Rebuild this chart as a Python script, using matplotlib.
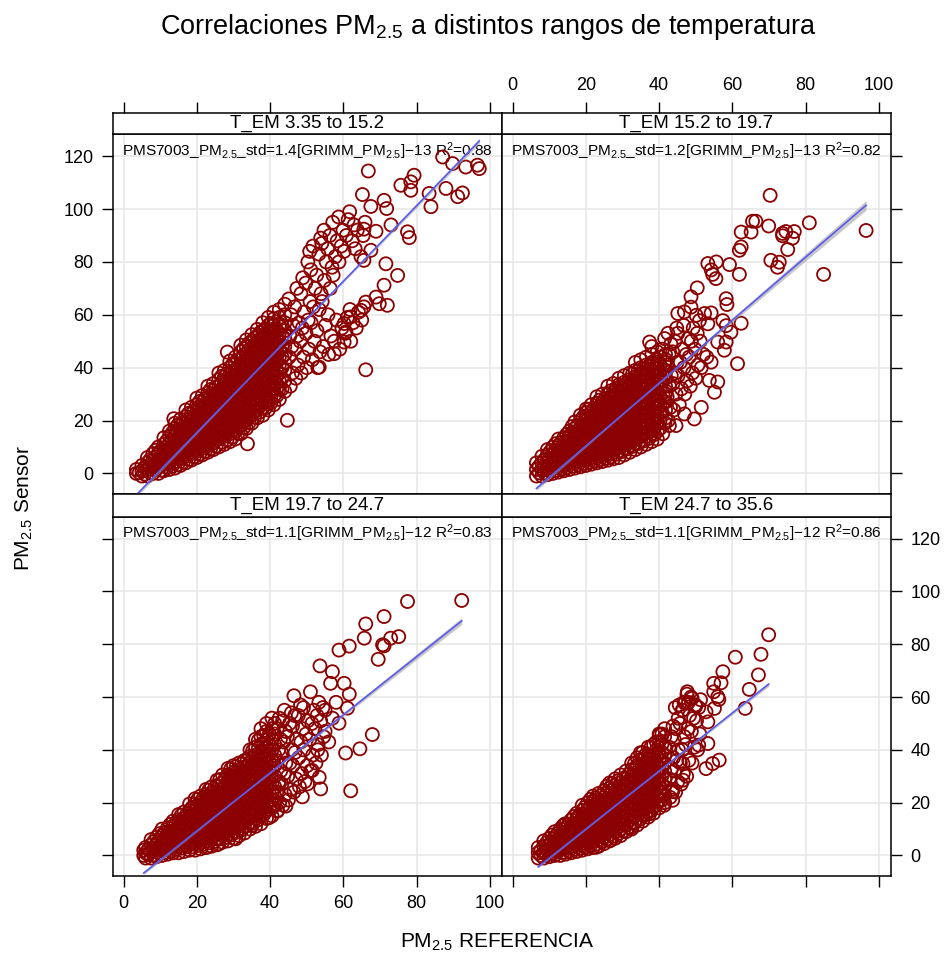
import numpy as np
import matplotlib
matplotlib.use("Agg")
import matplotlib.pyplot as plt

plt.rcParams["font.family"] = ["Liberation Sans", "DejaVu Sans"]
plt.rcParams["mathtext.fontset"] = "custom"
plt.rcParams["mathtext.rm"] = "Liberation Sans"
plt.rcParams["mathtext.it"] = "Liberation Sans:italic"
plt.rcParams["mathtext.bf"] = "Liberation Sans:bold"

# ---- data: (x, [y values]) columns of the dense cloud,
#      extra columns inside the solid core, and single points where it thins out ----
tl_cols = [
    (3.5, [0, 1.5]),
    (5, [-1, 1, 3]),
    (6.5, [-1, 1.5, 4, 6]),
    (8, [0, 2.5, 5, 7.5]),
    (9.5, [0, 2.5, 5, 7.5, 10]),
    (11, [1, 3.5, 6, 8.5, 11, 13.5]),
    (12.5, [1.5, 4, 6.5, 9, 11.5, 14, 16]),
    (14, [2, 4.5, 7, 9.5, 12, 14.5, 17, 19]),
    (15.5, [3, 5.5, 8, 10.5, 13, 15.5, 18, 20.5]),
    (17, [4, 6.5, 9, 11.5, 14, 16.5, 19, 21.5, 24]),
    (18.5, [5, 7.5, 10, 12.5, 15, 17.5, 20, 22.5, 25]),
    (20, [6, 8.5, 11, 13.5, 16, 18.5, 21, 23.5, 26, 28.5]),
    (21.5, [7, 9.5, 12, 14.5, 17, 19.5, 22, 24.5, 27, 29.5]),
    (23, [8, 10.5, 13, 15.5, 18, 20.5, 23, 25.5, 28, 30.5, 33]),
    (24.5, [9, 11.5, 14, 16.5, 19, 21.5, 24, 26.5, 29, 31.5, 34]),
    (26, [10, 13, 15.5, 18, 20.5, 23, 25.5, 28, 30.5, 33, 35.5, 38]),
    (27.5, [11, 14, 16.5, 19, 21.5, 24, 26.5, 29, 31.5, 34, 36.5, 39]),
    (29, [12, 15, 17.5, 20, 22.5, 25, 27.5, 30, 32.5, 35, 37.5, 40, 42.5]),
    (30.5, [13, 16, 19, 21.5, 24, 26.5, 29, 31.5, 34, 36.5, 39, 41.5, 44]),
    (32, [15, 18, 21, 23.5, 26, 28.5, 31, 33.5, 36, 38.5, 41, 43.5, 46, 48.5]),
    (33.5, [17, 20, 23, 25.5, 28, 30.5, 33, 35.5, 38, 40.5, 43, 45.5, 48, 50.5]),
    (35, [19, 22, 25, 27.5, 30, 32.5, 35, 37.5, 40, 42.5, 45, 47.5, 50, 52.5]),
    (36.5, [21, 24, 27, 29.5, 32, 34.5, 37, 39.5, 42, 44.5, 47, 49.5, 52, 54.5]),
    (38, [22, 25, 28, 31, 34, 36.5, 39, 41.5, 44, 46.5, 49, 51.5, 54, 57]),
    (39.5, [24, 27, 30, 33, 36, 38.5, 41, 43.5, 46, 48.5, 51, 53.5, 56, 59]),
    (41, [26, 29, 32, 35, 38, 41, 43.5, 46, 48.5, 51, 53.5, 56, 58.5, 61]),
    (42.5, [28, 32, 35, 38, 41, 44, 47, 50, 53, 56, 59, 62]),
    (44, [31, 35, 39, 42, 45, 48, 51, 54, 57, 60, 64]),
]
tl_core = [
    (4.25, [0.25]),
    (5.75, [-0.25, 2.25]),
    (7.25, [0.25, 2.75, 5.25]),
    (8.75, [1.25, 3.75, 6.25, 8.75]),
    (10.25, [1.25, 3.75, 6.25, 8.75]),
    (11.75, [2.25, 4.75, 7.25, 9.75, 12.25]),
    (13.25, [2.75, 5.25, 7.75, 10.25, 12.75, 15.25]),
    (14.75, [3.25, 5.75, 8.25, 10.75, 13.25, 15.75, 18.25]),
    (16.25, [4.25, 6.75, 9.25, 11.75, 14.25, 16.75, 19.25]),
    (17.75, [5.25, 7.75, 10.25, 12.75, 15.25, 17.75, 20.25, 22.75]),
    (19.25, [6.25, 8.75, 11.25, 13.75, 16.25, 18.75, 21.25, 23.75]),
    (20.75, [7.25, 9.75, 12.25, 14.75, 17.25, 19.75, 22.25, 24.75, 27.25]),
    (22.25, [8.25, 10.75, 13.25, 15.75, 18.25, 20.75, 23.25, 25.75, 28.25]),
    (23.75, [9.25, 11.75, 14.25, 16.75, 19.25, 21.75, 24.25, 26.75, 29.25, 31.75]),
    (25.25, [10.25, 12.75, 15.25, 17.75, 20.25, 22.75, 25.25, 27.75, 30.25, 32.75]),
    (26.75, [11.75, 14.25, 16.75, 19.25, 21.75, 24.25, 26.75, 29.25, 31.75, 34.25, 36.75]),
    (28.25, [12.75, 15.25, 17.75, 20.25, 22.75, 25.25, 27.75, 30.25, 32.75, 35.25, 37.75]),
    (29.75, [13.75, 16.25, 18.75, 21.25, 23.75, 26.25, 28.75, 31.25, 33.75, 36.25, 38.75, 41.25]),
    (31.25, [15.25, 17.75, 20.25, 22.75, 25.25, 27.75, 30.25, 32.75, 35.25, 37.75, 40.25, 42.75]),
    (32.75, [17.25, 19.75, 22.25, 24.75, 27.25, 29.75, 32.25, 34.75, 37.25, 39.75, 42.25, 44.75, 47.25]),
    (34.25, [19.25, 21.75, 24.25, 26.75, 29.25, 31.75, 34.25, 36.75, 39.25, 41.75, 44.25, 46.75, 49.25]),
    (35.75, [21.25, 23.75, 26.25, 28.75, 31.25, 33.75, 36.25, 38.75, 41.25, 43.75, 46.25, 48.75, 51.25]),
    (37.25, [23.25, 25.75, 28.25, 30.75, 33.25, 35.75, 38.25, 40.75, 43.25, 45.75, 48.25, 50.75, 53.25]),
    (38.75, [24.75, 27.25, 29.75, 32.25, 34.75, 37.25, 39.75, 42.25, 44.75, 47.25, 49.75, 52.25, 54.75]),
    (40.25, [26.75, 29.25, 31.75, 34.25, 36.75, 39.25, 41.75, 44.25, 46.75, 49.25, 51.75, 54.25, 56.75]),
    (41.75, [29.25, 31.75, 34.25, 36.75, 39.25, 41.75, 44.25, 46.75, 49.25, 51.75, 54.25]),
    (43.25, [32, 36, 40, 44, 48, 52, 56]),
]
tl_loose = [(45.5, 33), (46.1, 38), (45.2, 44), (45.9, 48), (45.4, 52), (46.3, 56), (45.7, 60), (45.1, 66),
            (47, 36), (47.6, 41), (46.8, 47), (47.4, 52), (47.9, 57), (46.7, 63), (47.3, 70),
            (48.5, 38), (49.1, 44), (48.2, 50), (48.8, 55), (49.3, 61), (48.4, 68), (48.9, 74),
            (50, 40), (50.6, 47), (49.8, 53), (50.4, 58), (50.9, 65), (49.7, 72), (50.3, 80), (50.8, 84),
            (51.5, 43), (52.1, 50), (51.2, 57), (51.8, 63), (52.3, 70), (51.1, 77), (51.7, 86),
            (53, 40), (53.6, 46), (52.8, 54), (53.4, 62), (53.9, 68), (52.7, 75), (53.3, 83), (53.8, 89),
            (54.5, 48), (55.1, 56), (54.2, 65), (54.8, 73), (55.3, 80), (54.1, 87), (54.7, 92),
            (56, 45), (56.6, 52), (55.8, 60), (56.4, 70), (56.9, 78), (55.7, 85), (56.3, 90),
            (57.5, 50), (58.1, 58), (57.2, 75), (57.8, 82), (58.3, 88), (57.1, 95),
            (59, 47), (59.6, 55), (58.8, 80), (59.4, 86), (59.9, 92), (58.7, 97),
            (60.5, 53), (61.1, 59), (60.2, 84), (60.8, 90), (61.3, 96),
            (62, 50), (62.6, 57), (61.8, 62), (62.4, 88), (62.9, 94), (61.7, 99),
            (63.5, 55), (64.1, 61), (63.2, 85), (63.8, 92),
            (65, 58), (65.6, 63), (64.8, 82), (65.4, 90), (65.9, 95),
            (66.8, 114.4), (65.2, 105.5), (67.5, 101), (71.1, 103.3), (71.8, 100.2), (75.7, 109),
            (78.4, 110.3), (79.3, 112.8), (78.4, 107.1), (83.4, 105.9), (83.9, 100.9), (88, 107.8),
            (91.2, 104.7), (92.5, 106.1), (87.1, 119.7), (89.8, 117.2), (93.4, 115.9), (96.6, 116.6),
            (97.1, 115.3), (74.8, 74.9), (71.1, 71.2), (68.9, 66.7), (69.8, 64.2), (72, 63.6),
            (66.1, 64.8), (64.8, 61.7), (62, 59.2), (60.2, 56.7), (60.7, 53.5), (60.2, 49.7),
            (57.5, 45.3), (53.4, 40.2), (66.1, 39.2), (44.7, 20.1), (33.8, 11.2), (13.7, 20.7),
            (28.3, 45.9), (65.6, 92.4), (68.9, 91.6), (73, 94), (77.5, 91.4), (78, 89.2),
            (65.6, 80.6), (67.5, 84.4), (71.6, 79.3)]

tr_cols = [
    (6.5, [-1, 1.5, 4]),
    (8, [-1, 1.5, 4, 6.5]),
    (9.5, [-0.5, 2, 4.5, 7, 9]),
    (11, [0, 2.5, 5, 7.5, 10]),
    (12.5, [0.5, 3, 5.5, 8, 10.5, 13]),
    (14, [1, 3.5, 6, 8.5, 11, 13.5]),
    (15.5, [1.5, 4, 6.5, 9, 11.5, 14, 16]),
    (17, [2, 4.5, 7, 9.5, 12, 14.5, 17, 19.5]),
    (18.5, [2.5, 5, 7.5, 10, 12.5, 15, 17.5, 20, 22]),
    (20, [3, 5.5, 8, 10.5, 13, 15.5, 18, 20.5, 23]),
    (21.5, [3.5, 6, 8.5, 11, 13.5, 16, 18.5, 21, 23.5, 26]),
    (23, [4, 6.5, 9, 11.5, 14, 16.5, 19, 21.5, 24, 26.5, 29]),
    (24.5, [4.5, 7, 9.5, 12, 14.5, 17, 19.5, 22, 24.5, 27, 30]),
    (26, [5, 7.5, 10, 12.5, 15, 17.5, 20, 22.5, 25, 27.5, 30, 33]),
    (27.5, [5.5, 8, 10.5, 13, 15.5, 18, 20.5, 23, 25.5, 28, 30.5, 34]),
    (29, [6, 8.5, 11, 13.5, 16, 18.5, 21, 23.5, 26, 28.5, 31, 33.5, 36]),
    (30.5, [7, 9.5, 12, 14.5, 17, 19.5, 22, 24.5, 27, 29.5, 32, 34.5, 37]),
    (32, [8, 10.5, 13, 15.5, 18, 20.5, 23, 25.5, 28, 30.5, 33, 35.5, 38]),
    (33.5, [9, 11.5, 14, 16.5, 19, 21.5, 24, 26.5, 29, 31.5, 34, 36.5, 39, 42]),
    (35, [10, 12.5, 15, 17.5, 20, 22.5, 25, 27.5, 30, 32.5, 35, 37.5, 40, 43]),
    (36.5, [11, 14, 17, 20, 23, 26, 29, 32, 35, 38, 41, 44]),
    (38, [12, 15, 18, 21, 24, 27, 30, 33, 36, 39, 42, 45, 48]),
    (39.5, [13, 16, 19, 22, 25, 28, 31, 34, 37, 40, 43, 46]),
]
tr_core = [
    (7.25, [0.25, 2.75]),
    (8.75, [0.25, 2.75, 5.25]),
    (10.25, [0.75, 3.25, 5.75, 8.25]),
    (11.75, [1.25, 3.75, 6.25, 8.75, 11.25]),
    (13.25, [1.75, 4.25, 6.75, 9.25, 11.75]),
    (14.75, [2.25, 4.75, 7.25, 9.75, 12.25, 14.75]),
    (16.25, [2.75, 5.25, 7.75, 10.25, 12.75, 15.25, 17.75]),
    (17.75, [3.25, 5.75, 8.25, 10.75, 13.25, 15.75, 18.25]),
    (19.25, [3.75, 6.25, 8.75, 11.25, 13.75, 16.25, 18.75, 21.25]),
    (20.75, [4.25, 6.75, 9.25, 11.75, 14.25, 16.75, 19.25, 21.75, 24.25]),
    (22.25, [4.75, 7.25, 9.75, 12.25, 14.75, 17.25, 19.75, 22.25, 24.75]),
    (23.75, [5.25, 7.75, 10.25, 12.75, 15.25, 17.75, 20.25, 22.75, 25.25, 27.75]),
    (25.25, [5.75, 8.25, 10.75, 13.25, 15.75, 18.25, 20.75, 23.25, 25.75, 28.25]),
    (26.75, [6.25, 8.75, 11.25, 13.75, 16.25, 18.75, 21.25, 23.75, 26.25, 28.75, 31.25]),
    (28.25, [7.25, 9.75, 12.25, 14.75, 17.25, 19.75, 22.25, 24.75, 27.25, 29.75, 32.25]),
    (29.75, [8.25, 10.75, 13.25, 15.75, 18.25, 20.75, 23.25, 25.75, 28.25, 30.75, 33.25]),
    (31.25, [9.25, 11.75, 14.25, 16.75, 19.25, 21.75, 24.25, 26.75, 29.25, 31.75, 34.25]),
    (32.75, [10.25, 12.75, 15.25, 17.75, 20.25, 22.75, 25.25, 27.75, 30.25, 32.75, 35.25, 37.75]),
    (34.25, [11.25, 13.75, 16.25, 18.75, 21.25, 23.75, 26.25, 28.75, 31.25, 33.75, 36.25, 38.75]),
    (35.75, [12.25, 14.75, 17.25, 19.75, 22.25, 24.75, 27.25, 29.75, 32.25, 34.75, 37.25, 39.75]),
    (37.25, [13.25, 15.75, 18.25, 20.75, 23.25, 25.75, 28.25, 30.75, 33.25, 35.75, 38.25, 40.75]),
    (38.75, [14.75, 17.25, 19.75, 22.25, 24.75, 27.25, 29.75, 32.25, 34.75, 37.25, 39.75, 42.25]),
    (40.25, [17, 20, 23, 26, 29, 32, 35, 38, 41, 44]),
    (41.75, [21, 24, 27, 30, 33, 36, 39, 42, 45]),
]
tr_loose = [(41, 15), (41.6, 19), (40.8, 23), (41.4, 27), (41.9, 31), (40.7, 35), (41.3, 39), (41.8, 43),
            (40.9, 47), (41.5, 51),
            (42.5, 20), (43.1, 25), (42.2, 29), (42.8, 33), (43.3, 37), (42.1, 41), (42.7, 45), (43.2, 49),
            (42.4, 53),
            (44, 24), (44.6, 30), (43.8, 34), (44.4, 38), (44.9, 42), (43.7, 46), (44.3, 50), (44.8, 55),
            (45.5, 26), (46.1, 32), (45.2, 37), (45.8, 42), (46.3, 47), (45.1, 53),
            (47, 30), (47.6, 35), (46.8, 40), (47.4, 45), (47.9, 51), (46.7, 56),
            (48.5, 33), (49.1, 38), (48.2, 44), (48.8, 50), (49.3, 55),
            (50, 36), (50.6, 41), (49.8, 47), (50.4, 53),
            (51.5, 40), (52.1, 45), (51.2, 50), (53, 44),
            (70.3, 105.2), (65.5, 95.4), (66.4, 95.4), (69.9, 93.6), (81, 94.8), (96.5, 91.9),
            (62.4, 91.3), (65.1, 91.3), (73.7, 90.8), (74.6, 91.5), (76.9, 91.5), (76.4, 89),
            (73.7, 89.9), (75.1, 84.7), (62.4, 85.7), (61.9, 84.4), (70.5, 80.6), (72.8, 79.9),
            (72.3, 78), (84.9, 75.3), (53.3, 79.4), (55.6, 80), (54.2, 77), (54.6, 75.3),
            (55.5, 73.7), (59.2, 79), (61.9, 75.3), (50.4, 70.2), (48.7, 66.8), (58.3, 66.1),
            (58.5, 63.9), (45.1, 60.5), (46.9, 61.1), (48.7, 62.9), (50.1, 59.8), (52.4, 60.5),
            (54.2, 60.7), (53.3, 56.6), (51, 57.8), (57.4, 57.8), (58.3, 55.9), (59.6, 53.4),
            (62.4, 56.8), (56, 49.7), (58.3, 49.7), (57.8, 46.6), (61.4, 41.5), (54.2, 42.1),
            (53.7, 35.2), (56, 34.6), (55.1, 30.7), (51.5, 25), (49.6, 20.6), (46.9, 22.5),
            (44.6, 18.1), (42.8, 18.1), (37.4, 49.7), (20.1, 24.4)]

bl_cols = [
    (5.5, [0, 2]),
    (6, [-1, 1, 3]),
    (7.5, [-1, 1.5, 4, 6]),
    (9, [-0.5, 2, 4.5, 7]),
    (10.5, [0, 2.5, 5, 7.5, 10]),
    (12, [0.5, 3, 5.5, 8, 10.5]),
    (13.5, [1, 3.5, 6, 8.5, 11, 13]),
    (15, [1, 3.5, 6, 8.5, 11, 13.5, 15.5]),
    (16.5, [1.5, 4, 6.5, 9, 11.5, 14, 16.5]),
    (18, [2, 4.5, 7, 9.5, 12, 14.5, 17, 19.5]),
    (19.5, [2, 4.5, 7, 9.5, 12, 14.5, 17, 19.5, 21.5]),
    (21, [2.5, 5, 7.5, 10, 12.5, 15, 17.5, 20, 22.5]),
    (22.5, [3, 5.5, 8, 10.5, 13, 15.5, 18, 20.5, 23, 25]),
    (24, [3.5, 6, 8.5, 11, 13.5, 16, 18.5, 21, 23.5, 26]),
    (25.5, [4, 6.5, 9, 11.5, 14, 16.5, 19, 21.5, 24, 26.5, 28.5]),
    (27, [5, 7.5, 10, 12.5, 15, 17.5, 20, 22.5, 25, 27.5, 30.5]),
    (28.5, [5.5, 8, 10.5, 13, 15.5, 18, 20.5, 23, 25.5, 28, 30.5, 33]),
    (30, [6.5, 9, 11.5, 14, 16.5, 19, 21.5, 24, 26.5, 29, 31.5, 34]),
    (31.5, [7.5, 10, 12.5, 15, 17.5, 20, 22.5, 25, 27.5, 30, 32.5, 35]),
    (33, [8.5, 11, 13.5, 16, 18.5, 21, 23.5, 26, 28.5, 31, 33.5, 36]),
    (34.5, [10, 12.5, 15, 17.5, 20, 22.5, 25, 27.5, 30, 32.5, 35, 37.5, 40]),
    (36, [11, 14, 17, 20, 23, 26, 29, 32, 35, 38, 41, 44]),
    (37.5, [12, 15, 18, 21, 24, 27, 30, 33, 36, 39, 42, 45, 48]),
    (39, [14, 17, 20, 23, 26, 29, 32, 35, 38, 41, 44, 47, 50]),
    (40.5, [15, 18, 21, 24, 27, 30, 33, 36, 40, 44, 48, 52]),
]
bl_core = [
    (6.75, [0.25, 2.25]),
    (8.25, [0.25, 2.75, 5.25]),
    (9.75, [0.75, 3.25, 5.75, 8.25]),
    (11.25, [1.25, 3.75, 6.25, 8.75]),
    (12.75, [1.75, 4.25, 6.75, 9.25, 11.75]),
    (14.25, [2.25, 4.75, 7.25, 9.75, 12.25]),
    (15.75, [2.75, 5.25, 7.75, 10.25, 12.75, 15.25]),
    (17.25, [3.25, 5.75, 8.25, 10.75, 13.25, 15.75]),
    (18.75, [3.25, 5.75, 8.25, 10.75, 13.25, 15.75, 18.25]),
    (20.25, [3.75, 6.25, 8.75, 11.25, 13.75, 16.25, 18.75, 21.25]),
    (21.75, [4.25, 6.75, 9.25, 11.75, 14.25, 16.75, 19.25, 21.75]),
    (23.25, [4.75, 7.25, 9.75, 12.25, 14.75, 17.25, 19.75, 22.25, 24.75]),
    (24.75, [5.25, 7.75, 10.25, 12.75, 15.25, 17.75, 20.25, 22.75, 25.25]),
    (26.25, [6.25, 8.75, 11.25, 13.75, 16.25, 18.75, 21.25, 23.75, 26.25, 28.75]),
    (27.75, [6.75, 9.25, 11.75, 14.25, 16.75, 19.25, 21.75, 24.25, 26.75, 29.25]),
    (29.25, [7.75, 10.25, 12.75, 15.25, 17.75, 20.25, 22.75, 25.25, 27.75, 30.25, 32.75]),
    (30.75, [8.75, 11.25, 13.75, 16.25, 18.75, 21.25, 23.75, 26.25, 28.75, 31.25, 33.75]),
    (32.25, [9.75, 12.25, 14.75, 17.25, 19.75, 22.25, 24.75, 27.25, 29.75, 32.25, 34.75]),
    (33.75, [11.25, 13.75, 16.25, 18.75, 21.25, 23.75, 26.25, 28.75, 31.25, 33.75, 36.25]),
    (35.25, [12.25, 14.75, 17.25, 19.75, 22.25, 24.75, 27.25, 29.75, 32.25, 34.75, 37.25, 39.75]),
    (36.75, [13.5, 16.5, 19.5, 22.5, 25.5, 28.5, 31.5, 34.5, 37.5, 40.5, 43.5]),
    (38.25, [15.5, 18.5, 21.5, 24.5, 27.5, 30.5, 33.5, 36.5, 39.5, 42.5, 45.5]),
    (39.75, [17.5, 20.5, 23.5, 26.5, 29.5, 32.5, 35.5, 38.5, 42, 46]),
    (41.25, [19, 22.5, 26, 30, 34, 38, 42, 46, 50]),
]
bl_loose = [(42, 17), (42.6, 20), (41.8, 24), (42.4, 28), (42.9, 32), (41.7, 36), (42.3, 40), (42.8, 44),
            (41.9, 48), (42.5, 52),
            (43.5, 19), (44.1, 23), (43.2, 27), (43.8, 31), (44.3, 35), (43.1, 39), (43.7, 43), (44.2, 47),
            (43.4, 51), (43.9, 55),
            (45, 21), (45.6, 25), (44.8, 30), (45.4, 35), (45.9, 40), (44.7, 45), (45.3, 50), (45.8, 54),
            (46.5, 24), (47.1, 29), (46.2, 34), (46.8, 39), (47.3, 44), (46.1, 49), (46.7, 53),
            (48, 26), (48.6, 31), (47.8, 37), (48.4, 43), (48.9, 48), (47.7, 53), (48.3, 57),
            (49.5, 28), (50.1, 34), (49.2, 40), (49.8, 46), (50.3, 51), (49.1, 56),
            (51, 32), (51.6, 38), (50.8, 44), (51.4, 50), (51.9, 55),
            (52.5, 35), (53.1, 42), (52.2, 48), (52.8, 53), (53.3, 58),
            (54, 38), (54.6, 45), (53.8, 51), (54.4, 56),
            (92.3, 96.6), (77.5, 96.2), (71.1, 90.5), (66.1, 87.7), (65.7, 82.3), (70.7, 79.8),
            (72.9, 82.3), (75.1, 82.9), (71.1, 79.4), (69.5, 74.3), (58.8, 77.8), (61.6, 79.3),
            (53.6, 71.8), (57, 69.6), (56.5, 65.2), (60.2, 65.2), (61.6, 61.1), (46.5, 60.5),
            (61.1, 55.8), (58.8, 50.1), (67.9, 45.8), (64.5, 40.4), (60.6, 38.8), (62, 24.5),
            (48.8, 22.2), (44.3, 18.7), (42, 16.8), (39.7, 14.3), (35.1, 11.4), (30.6, 6.3),
            (26, 4.4), (22.9, 3.2), (53.4, 29.6), (51.5, 32.2), (53.8, 25.2), (50.2, 27.1),
            (55, 47), (57, 52), (56, 43), (53, 40), (58, 58), (55, 55), (51, 62)]

br_cols = [
    (7, [-1, 1, 3]),
    (8.5, [-1, 1, 3.5, 5.5]),
    (10, [-0.5, 1.5, 4, 6.5]),
    (11.5, [0, 2, 4.5, 7, 9]),
    (13, [0, 2.5, 5, 7.5, 10]),
    (14.5, [0.5, 3, 5.5, 8, 10.5, 12]),
    (16, [1, 3.5, 6, 8.5, 11, 13.5]),
    (17.5, [1.5, 4, 6.5, 9, 11.5, 14, 16]),
    (19, [2, 4.5, 7, 9.5, 12, 14.5, 17, 19]),
    (20.5, [2.5, 5, 7.5, 10, 12.5, 15, 17.5, 20]),
    (22, [3, 5.5, 8, 10.5, 13, 15.5, 18, 20.5, 22.5]),
    (23.5, [3.5, 6, 8.5, 11, 13.5, 16, 18.5, 21, 23.5]),
    (25, [4.5, 7, 9.5, 12, 14.5, 17, 19.5, 22, 24.5]),
    (26.5, [5.5, 8, 10.5, 13, 15.5, 18, 20.5, 23, 25.5, 27.5]),
    (28, [6.5, 9, 11.5, 14, 16.5, 19, 21.5, 24, 26.5, 29]),
    (29.5, [7.5, 10, 12.5, 15, 17.5, 20, 22.5, 25, 27.5, 30.5]),
    (31, [9, 11.5, 14, 16.5, 19, 21.5, 24, 26.5, 29, 32]),
    (32.5, [10, 12.5, 15, 17.5, 20, 22.5, 25, 27.5, 30, 32.5, 35]),
    (34, [11.5, 14, 16.5, 19, 21.5, 24, 26.5, 29, 31.5, 34, 37]),
    (35.5, [13, 15.5, 18, 20.5, 23, 25.5, 28, 30.5, 33, 36, 39]),
    (37, [14.5, 17, 19.5, 22, 24.5, 27, 29.5, 32, 35, 38, 41]),
    (38.5, [16, 18.5, 21, 23.5, 26, 29, 32, 35, 38, 42]),
    (40, [18, 21, 24, 27, 30, 33, 36, 39, 43, 46]),
    (41.5, [20, 23, 26, 29, 32, 35, 38, 41, 45, 48]),
]
br_core = [
    (7.75, [0, 2]),
    (9.25, [0.25, 2.25, 4.75]),
    (10.75, [0.75, 2.75, 5.25, 7.75]),
    (12.25, [1.25, 3.25, 5.75, 8.25]),
    (13.75, [1.25, 3.75, 6.25, 8.75, 11.25]),
    (15.25, [1.75, 4.25, 6.75, 9.25, 11.75]),
    (16.75, [2.25, 4.75, 7.25, 9.75, 12.25, 14.75]),
    (18.25, [2.75, 5.25, 7.75, 10.25, 12.75, 15.25]),
    (19.75, [3.25, 5.75, 8.25, 10.75, 13.25, 15.75, 18.25]),
    (21.25, [3.75, 6.25, 8.75, 11.25, 13.75, 16.25, 18.75, 21.25]),
    (22.75, [4.25, 6.75, 9.25, 11.75, 14.25, 16.75, 19.25, 21.75]),
    (24.25, [5.25, 7.75, 10.25, 12.75, 15.25, 17.75, 20.25, 22.75]),
    (25.75, [6.25, 8.75, 11.25, 13.75, 16.25, 18.75, 21.25, 23.75, 26.25]),
    (27.25, [7.25, 9.75, 12.25, 14.75, 17.25, 19.75, 22.25, 24.75, 27.25]),
    (28.75, [8.25, 10.75, 13.25, 15.75, 18.25, 20.75, 23.25, 25.75, 28.25]),
    (30.25, [9.25, 11.75, 14.25, 16.75, 19.25, 21.75, 24.25, 26.75, 29.25]),
    (31.75, [10.75, 13.25, 15.75, 18.25, 20.75, 23.25, 25.75, 28.25, 30.75]),
    (33.25, [12.25, 14.75, 17.25, 19.75, 22.25, 24.75, 27.25, 29.75, 32.25, 34.75]),
    (34.75, [13.75, 16.25, 18.75, 21.25, 23.75, 26.25, 28.75, 31.25, 33.75, 36.25]),
    (36.25, [15.25, 17.75, 20.25, 22.75, 25.25, 27.75, 30.25, 32.75, 35.25, 38]),
    (37.75, [17, 19.5, 22, 24.5, 27, 29.5, 32, 35, 38, 41]),
    (39.25, [19, 22, 25, 28, 31, 34, 37, 40, 43]),
    (40.75, [21, 24, 27, 30, 33, 36, 39, 42, 46]),
]
br_loose = [(43, 22), (43.6, 25), (42.8, 29), (43.4, 33), (43.9, 37), (42.7, 41), (43.3, 45), (43.8, 49),
            (44.5, 24), (45.1, 28), (44.2, 32), (44.8, 36), (45.3, 40), (44.1, 44), (44.7, 48), (45.2, 52),
            (44.4, 56),
            (46, 27), (46.6, 31), (45.8, 35), (46.4, 40), (46.9, 45), (45.7, 50), (46.3, 55), (46.8, 58),
            (47.5, 30), (48.1, 36), (47.2, 42), (47.8, 48), (48.3, 53), (47.1, 58), (47.7, 62),
            (49, 35), (49.6, 41), (48.8, 47), (49.4, 52), (49.9, 57), (48.7, 60),
            (50.5, 40), (51.1, 46), (50.2, 51), (50.8, 56), (51.3, 59),
            (69.9, 83.6), (60.8, 75.1), (67.8, 76.2), (67.1, 68.4), (64.6, 62.9), (63.5, 55.7),
            (57.4, 69.6), (54.9, 65.2), (56.9, 65.4), (56, 60.1), (54.9, 62), (56.3, 59.1),
            (55.1, 55.7), (52.8, 54.4), (53.3, 50.6), (47.6, 61.1), (45.5, 57), (48, 58),
            (50, 56.5), (46.5, 55), (49, 59.5), (56.4, 36.1), (54.6, 34.8), (52.8, 32.9),
            (53.3, 42.4), (50.8, 41.8), (40.1, 45.6), (34.9, 38.9), (43.7, 20.9), (41.4, 19),
            (37.4, 15.8), (32.2, 10.4), (26.9, 5.9), (22.8, 3.1), (46.5, 28.5), (43.7, 24.2),
            (46.5, 34.8), (14.2, 11.8)]

strips = ["T_EM 3.35 to 15.2", "T_EM 15.2 to 19.7", "T_EM 19.7 to 24.7", "T_EM 24.7 to 35.6"]
labels = [r"PMS7003_PM$_{2.5}$_std=1.4[GRIMM_PM$_{2.5}$]−13 R$^{2}$=0.88",
          r"PMS7003_PM$_{2.5}$_std=1.2[GRIMM_PM$_{2.5}$]−13 R$^{2}$=0.82",
          r"PMS7003_PM$_{2.5}$_std=1.1[GRIMM_PM$_{2.5}$]−12 R$^{2}$=0.83",
          r"PMS7003_PM$_{2.5}$_std=1.1[GRIMM_PM$_{2.5}$]−12 R$^{2}$=0.86"]
slopes = [1.43, 1.19, 1.10, 1.10]
intercepts = [-13.1, -13.4, -12.7, -12.0]
fit_x0 = [3.5, 6.5, 5.5, 7.0]
fit_x1 = [97.1, 96.5, 92.3, 69.9]
band_w = [(0.8, 1.0), (0.8, 1.8), (0.6, 1.3), (0.4, 0.8)]

xticks = [0, 20, 40, 60, 80, 100]
yticks = [0, 20, 40, 60, 80, 100, 120]

W, H = 947, 957


def box(l, t, r, b):
    return [l / W, 1 - b / H, (r - l) / W, (b - t) / H]


def cloud(cols, core, loose):
    xs = [x for x, ys in cols + core for _ in ys] + [p[0] for p in loose]
    ys = [y for _, ys in cols + core for y in ys] + [p[1] for p in loose]
    return np.array(xs), np.array(ys)


fig = plt.figure(figsize=(W / 100, H / 100), dpi=100)

cols_x = [(113, 502), (502, 891)]
rows_y = [(113, 134, 493.5), (493.5, 516.5, 875.5)]
data = [cloud(tl_cols, tl_core, tl_loose), cloud(tr_cols, tr_core, tr_loose),
        cloud(bl_cols, bl_core, bl_loose), cloud(br_cols, br_core, br_loose)]

tk = dict(direction="out", length=8, width=1, labelsize=13, pad=6, color="black")

for i in range(4):
    r, c = divmod(i, 2)
    l, rr = cols_x[c]
    st, pt, pb = rows_y[r]
    ax = fig.add_axes(box(l, pt, rr, pb))
    sax = fig.add_axes(box(l, st, rr, pt))

    x, y = data[i]
    ax.set_xlim(-2.9, 103.3)
    ax.set_ylim(-7.6, 128.4)
    ax.set_xticks(xticks)
    ax.set_yticks(yticks)
    ax.grid(color="#e6e6e6", lw=1.1, zorder=0)
    ax.set_axisbelow(True)

    ax.scatter(x, y, s=88, facecolors="none", edgecolors="#8b0000", linewidths=1.3, zorder=3)

    xf = np.linspace(fit_x0[i], fit_x1[i], 100)
    yf = slopes[i] * xf + intercepts[i]
    hw = np.interp(xf, [fit_x0[i], x.mean(), fit_x1[i]], [band_w[i][0], 0.15, band_w[i][1]])
    ax.fill_between(xf, yf - hw, yf + hw, color="#999999", alpha=0.55, lw=0, zorder=4)
    ax.plot(xf, yf, color="#5a5af0", lw=1.2, zorder=5)

    ax.text(0.5, 1 - 17 / 359, labels[i], transform=ax.transAxes, ha="center", va="center",
            fontsize=11.1, zorder=2)

    ax.tick_params(axis="both", **tk)
    ax.tick_params(axis="x", top=False, labeltop=False,
                   bottom=(r == 1), labelbottom=(i == 2))
    ax.tick_params(axis="y", left=(c == 0), labelleft=(i == 0),
                   right=(c == 1), labelright=(i == 3))

    sax.set_xlim(-2.9, 103.3)
    sax.set_ylim(0, 1)
    sax.set_yticks([])
    sax.set_xticks(xticks)
    sax.tick_params(axis="x", **tk)
    sax.tick_params(axis="x", bottom=False, labelbottom=False,
                    top=(r == 0), labeltop=(i == 1))
    sax.text(0.5, 0.5, strips[i], transform=sax.transAxes, ha="center", va="center",
             fontsize=13.5)

    for a in (ax, sax):
        for sp in a.spines.values():
            sp.set_linewidth(1.1)
            sp.set_color("black")

fig.text(488 / W, 1 - 27 / H, r"Correlaciones PM$_{2.5}$ a distintos rangos de temperatura",
         ha="center", va="center", fontsize=19.5)
fig.text(24 / W, 1 - 508 / H, r"PM$_{2.5}$ Sensor", rotation=90, ha="center", va="center",
         fontsize=15)
fig.text(497 / W, 1 - 942 / H, r"PM$_{2.5}$ REFERENCIA", ha="center", va="center", fontsize=15)

fig.savefig("out.png", dpi=100)
